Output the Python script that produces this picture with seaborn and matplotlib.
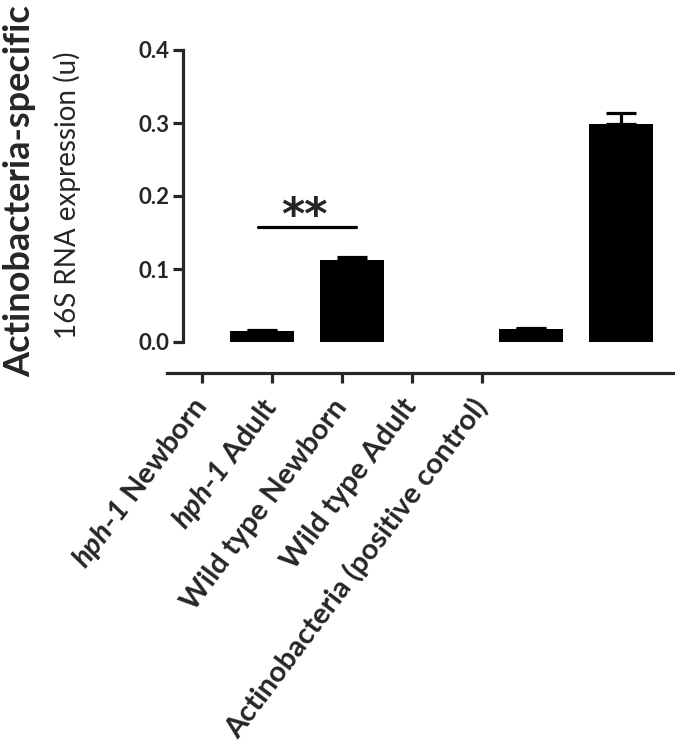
import numpy as np
import pandas as pd
import matplotlib
matplotlib.use('Agg')
import matplotlib.pyplot as plt
import seaborn as sns

# Data
groups = ['hph-1 Newborn', 'hph-1 Adult', 'Wild type Newborn',
          'Wild type Adult', 'Actinobacteria (positive control)']
tick_labels = [r'$\mathbfit{hph}$-$\mathbfit{1}$ Newborn',
               r'$\mathbfit{hph}$-$\mathbfit{1}$ Adult',
               'Wild type Newborn',
               'Wild type Adult',
               'Actinobacteria (positive control)']
expression = [0.015, 0.113, 0.0, 0.018, 0.299]
sem = [0.0015, 0.004, 0.0, 0.0015, 0.015]
y_ticks = [0.0, 0.1, 0.2, 0.3, 0.4]

sns.set_style('ticks')
plt.rcParams['font.family'] = ['Lato', 'DejaVu Sans']
plt.rcParams['font.weight'] = 'bold'
plt.rcParams['mathtext.fontset'] = 'custom'
plt.rcParams['mathtext.bfit'] = 'Lato:italic:bold'
plt.rcParams['mathtext.rm'] = 'Lato:bold'

df = pd.DataFrame({'group': groups, 'expression': expression, 'sem': sem})

fig = plt.figure(figsize=(6.75, 7.46), dpi=100)
ax = fig.add_axes([183 / 675, 404 / 746, 492 / 675, 292 / 746])

sns.barplot(data=df, x='group', y='expression', order=groups, color='black',
            width=0.71, linewidth=0, saturation=1, ax=ax)

# upper error bars only (skip empty group)
mask = df['expression'] > 0
xs = np.arange(len(groups))[mask.values]
ax.errorbar(xs, df.loc[mask, 'expression'],
            yerr=[np.zeros(mask.sum()), df.loc[mask, 'sem']],
            fmt='none', ecolor='black', elinewidth=2.3, capsize=10.5,
            capthick=2.3, zorder=1)

ax.set_xlim(-0.88, 4.6)
ax.set_ylim(0, 0.4)
ax.set_yticks(y_ticks)
ax.set_yticklabels([f'{v:.1f}' for v in y_ticks], fontsize=16, fontweight='bold')
ax.tick_params(axis='y', width=2.3, length=7, pad=3)
ax.set_xticks([])
ax.set_xlabel('')
ax.set_ylabel('')
for s in ['top', 'right', 'bottom']:
    ax.spines[s].set_visible(False)
ax.spines['left'].set_linewidth(2.3)
ax.patch.set_alpha(0)

# significance bracket
ax.plot([-0.05, 1.05], [0.1575, 0.1575], color='black', lw=2.3, clip_on=False)
ax.text(0.47, 0.142, '**', ha='center', va='bottom', fontsize=32,
        fontweight='bold', family='DejaVu Sans')

# separate category axis below the bars
ax2 = fig.add_axes([167 / 675, 373 / 746, 508 / 675, 0.01])
ax2.set_xlim(-0.5, 6.76)
ax2.set_xticks(range(len(groups)))
ax2.set_xticklabels(tick_labels, rotation=53, ha='right', va='center',
                    rotation_mode='anchor', fontsize=21, fontweight='bold')
ax2.tick_params(axis='x', width=2.3, length=7, pad=14)
ax2.set_yticks([])
for s in ['top', 'right', 'left']:
    ax2.spines[s].set_visible(False)
ax2.spines['bottom'].set_linewidth(2.3)
ax2.patch.set_alpha(0)

# y axis titles
fig.text(20 / 675, 1 - 191 / 746, 'Actinobacteria-specific', rotation=90,
         ha='center', va='center', fontsize=26, fontweight='bold')
fig.text(67 / 675, 1 - 195 / 746, '16S RNA expression (u)', rotation=90,
         ha='center', va='center', fontsize=20, fontweight='normal')

fig.savefig('out.png', dpi=100)
